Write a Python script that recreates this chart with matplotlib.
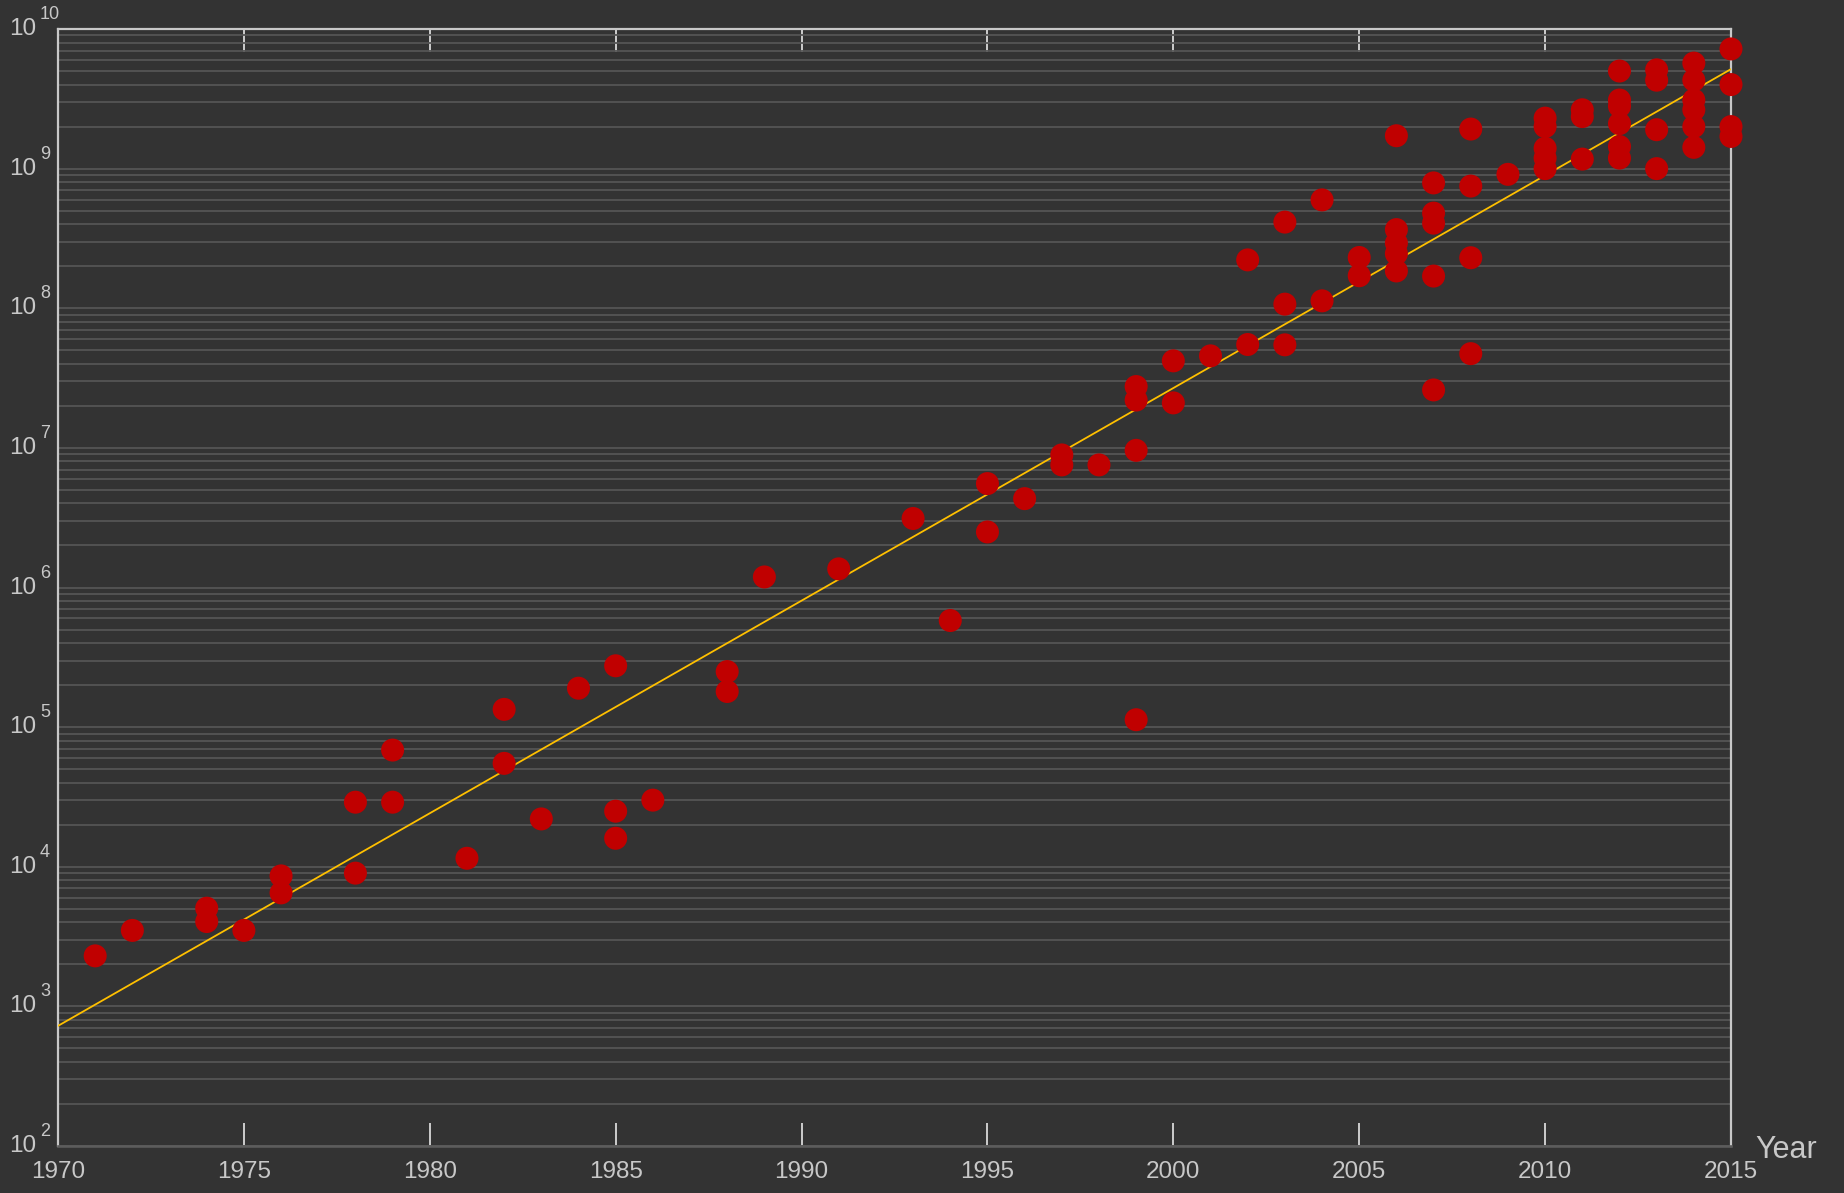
import matplotlib
matplotlib.use("Agg")
import matplotlib.pyplot as plt
from matplotlib.ticker import LogLocator, NullFormatter, FixedLocator

# Transistor counts per processor, grouped by year of introduction
years_1970s = [1971, 1972, 1974, 1974, 1975, 1976, 1976, 1978, 1978, 1979, 1979]
counts_1970s = [2.3e3, 3.5e3, 5.05e3, 4.05e3, 3.5e3, 8.6e3, 6.5e3, 2.9e4, 9.0e3, 6.85e4, 2.9e4]

years_1980s = [1981, 1982, 1982, 1983, 1984, 1985, 1985, 1985, 1986, 1988, 1988, 1989]
counts_1980s = [1.15e4, 1.34e5, 5.5e4, 2.2e4, 1.9e5, 2.75e5, 2.5e4, 1.6e4, 3.0e4, 2.5e5, 1.8e5, 1.19e6]

years_1990s = [1991, 1993, 1994, 1995, 1995, 1996, 1997, 1997, 1998,
               1999, 1999, 1999, 1999]
counts_1990s = [1.36e6, 3.12e6, 5.8e5, 5.55e6, 2.5e6, 4.33e6, 8.9e6, 7.55e6, 7.55e6,
                2.75e7, 2.2e7, 9.6e6, 1.13e5]

years_2000s = [2000, 2000, 2001, 2002, 2002, 2003, 2003, 2003, 2004, 2004, 2005, 2005,
               2006, 2006, 2006, 2006, 2006, 2007, 2007, 2007, 2007, 2007,
               2008, 2008, 2008, 2008, 2009]
counts_2000s = [4.2e7, 2.1e7, 4.56e7, 2.22e8, 5.5e7, 4.14e8, 1.07e8, 5.47e7, 5.97e8, 1.13e8, 2.31e8, 1.71e8,
                1.72e9, 3.66e8, 2.93e8, 2.46e8, 1.85e8, 7.9e8, 4.8e8, 4.07e8, 1.7e8, 2.6e7,
                1.92e9, 7.5e8, 2.3e8, 4.73e7, 9.1e8]

years_2010s = [2010, 2010, 2010, 2010, 2010, 2011, 2011, 2011,
               2012, 2012, 2012, 2012, 2012, 2012, 2013, 2013, 2013, 2013,
               2014, 2014, 2014, 2014, 2014, 2014, 2015, 2015, 2015, 2015]
counts_2010s = [2.3e9, 2.0e9, 1.4e9, 1.19e9, 1.0e9, 2.64e9, 2.36e9, 1.17e9,
                5.0e9, 3.1e9, 2.8e9, 2.1e9, 1.44e9, 1.19e9, 5.1e9, 4.3e9, 1.9e9, 1.0e9,
                5.7e9, 4.3e9, 3.1e9, 2.64e9, 2.0e9, 1.42e9, 7.2e9, 4.0e9, 2.0e9, 1.7e9]

# Exponential trend (straight line on the log axis)
trend_years = [1970, 2015]
trend_counts = [7.25e2, 5.16e9]

x_ticks = [1970, 1975, 1980, 1985, 1990, 1995, 2000, 2005, 2010, 2015]
y_decades = [2, 3, 4, 5, 6, 7, 8, 9, 10]

years = years_1970s + years_1980s + years_1990s + years_2000s + years_2010s
counts = counts_1970s + counts_1980s + counts_1990s + counts_2000s + counts_2010s

BG = "#333333"
FG = "#c8c8c8"
GRID = "#555555"
PX = 0.72  # points per pixel at dpi 100

plt.rcParams["font.family"] = ["Liberation Sans", "DejaVu Sans"]

fig = plt.figure(figsize=(18.44, 11.93), dpi=100, facecolor=BG)
ax = fig.add_axes([58 / 1844, 1 - 1146 / 1193, (1731 - 58) / 1844, (1146 - 29) / 1193])
ax.set_facecolor(BG)

ax.set_yscale("log")
ax.set_xlim(1970, 2015)
ax.set_ylim(1e2, 1e10)

# horizontal grid on every major and minor decade step
ax.yaxis.set_major_locator(FixedLocator([10.0 ** d for d in y_decades]))
ax.yaxis.set_minor_locator(LogLocator(base=10, subs=range(2, 10), numticks=20))
ax.yaxis.set_major_formatter(NullFormatter())
ax.yaxis.set_minor_formatter(NullFormatter())
ax.yaxis.grid(True, which="both", color=GRID, linewidth=1.8 * PX)
ax.xaxis.grid(False)
ax.set_axisbelow(True)
ax.tick_params(axis="y", which="both", length=0)

ax.set_xticks(x_ticks)
ax.set_xticklabels([str(t) for t in x_ticks])
ax.tick_params(axis="x", which="major", direction="in", length=23 * PX, width=2 * PX,
               color=FG, top=True, bottom=True, labelsize=17.5, labelcolor=FG, pad=11)

for side in ("left", "top", "right"):
    ax.spines[side].set_color(FG)
    ax.spines[side].set_linewidth(2.2 * PX)
ax.spines["bottom"].set_color("#5c5c5c")
ax.spines["bottom"].set_linewidth(2.6 * PX)

# trend line then the data points on top
ax.plot(trend_years, trend_counts, color="#FFC000", linewidth=1.8 * PX, zorder=3)
ax.scatter(years, counts, s=(23 * PX) ** 2, color="#C00000", edgecolors="none",
           zorder=4, clip_on=False)

# y tick labels written as base 10 with a raised exponent
for d in y_decades:
    ax.annotate("10", xy=(0, 10.0 ** d), xycoords=("axes fraction", "data"),
                xytext=(-22 * PX, 0), textcoords="offset points",
                ha="right", va="center", fontsize=17.5, color=FG, annotation_clip=False)
    ax.annotate(str(d), xy=(0, 10.0 ** d), xycoords=("axes fraction", "data"),
                xytext=(-18 * PX, 10 * PX), textcoords="offset points",
                ha="left", va="baseline", fontsize=13, color=FG, annotation_clip=False)

ax.annotate("Year", xy=(1, 0), xycoords="axes fraction",
            xytext=(24 * PX, -12 * PX), textcoords="offset points",
            ha="left", va="baseline", fontsize=22, color=FG, annotation_clip=False)

fig.savefig("out.png", dpi=100, facecolor=BG)
